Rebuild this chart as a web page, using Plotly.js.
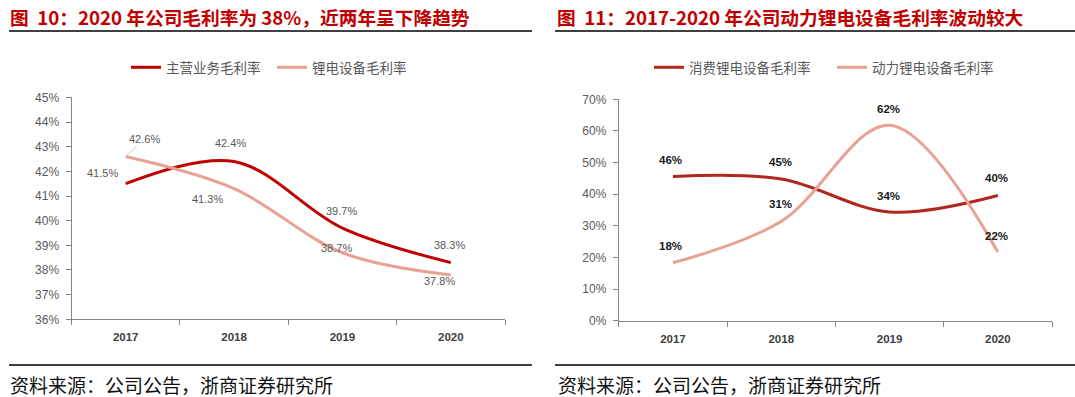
<!DOCTYPE html>
<html>
<head>
<meta charset="utf-8">
<script src="https://cdn.plot.ly/plotly-3.0.1.min.js"></script>
<style>html,body{margin:0;padding:0;background:#fff;}#chart{width:1075px;height:397px;}</style>
</head>
<body>
<div id="chart"></div>
<script>
// ---- data ----
const years = ['2017', '2018', '2019', '2020'];
// 图10
const mainMargin = [41.5, 42.4, 39.7, 38.3];      // 主营业务毛利率 (%)
const equipMargin = [42.6, 41.3, 38.7, 37.8];     // 锂电设备毛利率 (%)
// 图11
const consumerMargin = [45.6, 44.8, 34.4, 39.6];  // 消费锂电设备毛利率 (%)
const powerMargin = [18.3, 31.4, 61.8, 21.7];     // 动力锂电设备毛利率 (%)

const leftTitle = '图\u00a0\u00a010：2020 年公司毛利率为 38%，近两年呈下降趋势';
const rightTitle = '图\u00a0\u00a011：2017-2020 年公司动力锂电设备毛利率波动较大';
const sourceText = '资料来源：公司公告，浙商证券研究所';

// ---- style ----
const CJK = '"Noto Sans CJK SC", "Liberation Sans", sans-serif';
const NUM = '"Liberation Sans", "Noto Sans CJK SC", sans-serif';
const RED = '#c00000';
const DARKRED = '#b0281c';
const SALMON = '#e9a193';
const AXIS = '#868686';

// label offsets in px (dx, dy: screen, dy positive downward)
const offMain = [[-23,-11],[-4,-18],[-1,-17],[-1,-18]];
const offEquip = [[19,-18],[-27,10],[-6,-5],[-11,6]];
const offCons = [[-2,-16],[-1,-17],[-1,-16],[-1,-17]];
const offPower = [[-2,-17],[-1,-17],[-1,-16],[-1,-16]];

const traces = [
  {x: years, y: mainMargin, name: '主营业务毛利率', type: 'scatter', mode: 'lines',
   line: {color: RED, width: 3, shape: 'spline', smoothing: 1}, xaxis: 'x', yaxis: 'y', legend: 'legend'},
  {x: years, y: equipMargin, name: '锂电设备毛利率', type: 'scatter', mode: 'lines',
   line: {color: SALMON, width: 3, shape: 'spline', smoothing: 1}, xaxis: 'x', yaxis: 'y', legend: 'legend'},
  {x: years, y: consumerMargin, name: '消费锂电设备毛利率', type: 'scatter', mode: 'lines',
   line: {color: DARKRED, width: 3, shape: 'spline', smoothing: 1}, xaxis: 'x2', yaxis: 'y2', legend: 'legend2'},
  {x: years, y: powerMargin, name: '动力锂电设备毛利率', type: 'scatter', mode: 'lines',
   line: {color: SALMON, width: 3, shape: 'spline', smoothing: 1}, xaxis: 'x2', yaxis: 'y2', legend: 'legend2'}
];

const annotations = [];
function addLabels(vals, offs, xr, yr, fmt, font, arrowIdx) {
  vals.forEach((v, i) => {
    // category axis: annotation x given as category index
    const a = {x: i, y: v, xref: xr, yref: yr, text: fmt(v), font: font};
    if (i === arrowIdx) {
      Object.assign(a, {showarrow: true, arrowhead: 0, arrowwidth: 1, arrowcolor: '#c8c8c8',
        ax: offs[i][0], ay: offs[i][1], standoff: 0});
    } else {
      Object.assign(a, {showarrow: false, xshift: offs[i][0], yshift: -offs[i][1]});
    }
    annotations.push(a);
  });
}
const lblFontL = {family: NUM, size: 11, color: '#595959'};
const lblFontR = {family: NUM, size: 11.5, color: '#1a1a1a', weight: 'bold'};
addLabels(mainMargin, offMain, 'x', 'y', v => v.toFixed(1) + '%', lblFontL, -1);
addLabels(equipMargin, offEquip, 'x', 'y', v => v.toFixed(1) + '%', lblFontL, 0);
addLabels(consumerMargin, offCons, 'x2', 'y2', v => Math.round(v) + '%', lblFontR, -1);
addLabels(powerMargin, offPower, 'x2', 'y2', v => Math.round(v) + '%', lblFontR, -1);

const H = 397, W = 1075;
const py = p => (H - p) / H;
const px = p => p / W;

const titleFont = {family: CJK, size: 18.7, color: '#c00000', weight: 'bold'};
annotations.push({xref: 'paper', yref: 'paper', x: px(8), y: py(16), xanchor: 'left', yanchor: 'middle',
  text: leftTitle, showarrow: false, font: titleFont});
annotations.push({xref: 'paper', yref: 'paper', x: px(555), y: py(16), xanchor: 'left', yanchor: 'middle',
  text: rightTitle, showarrow: false, font: titleFont});
const srcFont = {family: CJK, size: 19, color: '#111111'};
annotations.push({xref: 'paper', yref: 'paper', x: px(8), y: py(384), xanchor: 'left', yanchor: 'middle',
  text: sourceText, showarrow: false, font: srcFont});
annotations.push({xref: 'paper', yref: 'paper', x: px(556), y: py(384), xanchor: 'left', yanchor: 'middle',
  text: sourceText, showarrow: false, font: srcFont});

const shapes = [
  {type: 'line', xref: 'paper', yref: 'paper', x0: px(9), x1: px(532), y0: py(31), y1: py(31), line: {color: '#000', width: 1.5}},
  {type: 'line', xref: 'paper', yref: 'paper', x0: px(555), x1: 1, y0: py(31), y1: py(31), line: {color: '#000', width: 1.5}},
  {type: 'line', xref: 'paper', yref: 'paper', x0: px(9), x1: px(532), y0: py(365), y1: py(365), line: {color: '#000', width: 1.5}},
  {type: 'line', xref: 'paper', yref: 'paper', x0: px(555), x1: 1, y0: py(365), y1: py(365), line: {color: '#000', width: 1.5}}
];

const xTickFont = {family: NUM, size: 11.5, color: '#404040', weight: 'bold'};
const yTickFont = {family: NUM, size: 12, color: '#595959'};
const xBase = {type: 'category', range: [-0.5, 3.5], tickson: 'boundaries', ticks: 'outside', ticklen: 5,
  tickcolor: AXIS, showline: true, linecolor: AXIS, linewidth: 1, showgrid: false, zeroline: false,
  tickfont: xTickFont, ticklabelstandoff: 7, fixedrange: true};
const yBase = {ticks: 'outside', ticklen: 5, tickcolor: AXIS, showline: true, linecolor: AXIS, linewidth: 1,
  showgrid: false, zeroline: false, ticksuffix: '%', tickfont: yTickFont, ticklabelstandoff: 4, fixedrange: true};

const legendBase = {orientation: 'h', xanchor: 'left', yanchor: 'middle', y: py(67.5),
  font: {family: CJK, size: 13.5, color: '#595959'}, bgcolor: 'rgba(0,0,0,0)',
  entrywidthmode: 'pixels', itemclick: false, itemdoubleclick: false};

const layout = {
  width: W, height: H,
  margin: {l: 0, r: 0, t: 0, b: 0},
  paper_bgcolor: '#ffffff', plot_bgcolor: '#ffffff',
  showlegend: true,
  xaxis: Object.assign({}, xBase, {domain: [px(71.5), px(505)], anchor: 'y'}),
  yaxis: Object.assign({}, yBase, {domain: [py(319.3), py(97.4)], range: [36, 45], dtick: 1, anchor: 'x'}),
  xaxis2: Object.assign({}, xBase, {domain: [px(618.8), px(1052)], anchor: 'y2'}),
  yaxis2: Object.assign({}, yBase, {domain: [py(320.7), py(99.3)], range: [0, 70], dtick: 10, anchor: 'x2'}),
  legend: Object.assign({}, legendBase, {x: px(126), entrywidth: 101}),
  legend2: Object.assign({}, legendBase, {x: px(649), entrywidth: 138}),
  annotations: annotations,
  shapes: shapes
};

Plotly.newPlot('chart', traces, layout, {displayModeBar: false, staticPlot: true});
</script>
</body>
</html>
